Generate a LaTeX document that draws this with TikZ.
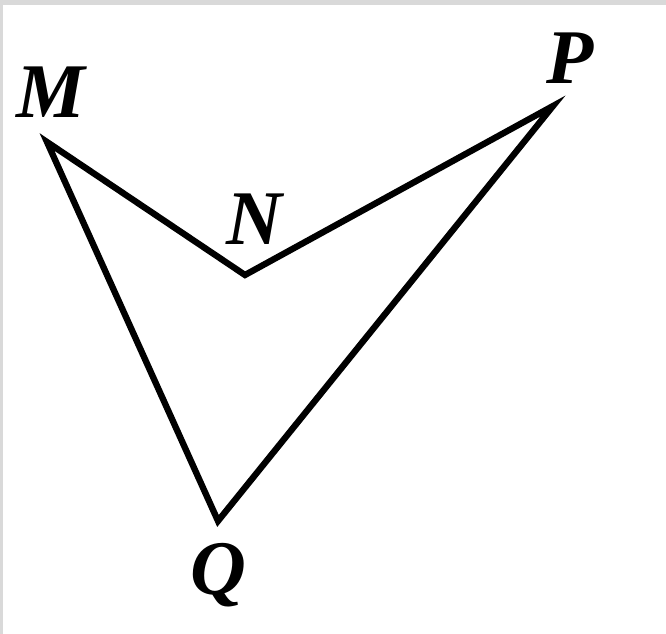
\documentclass[tikz,border=0pt]{standalone}
\usepackage{fontspec}
\setmainfont{Liberation Serif}
\begin{document}
\begin{tikzpicture}[x=0.02cm, y=-0.02cm,
    side/.style={line width=3.6pt, line join=miter, line cap=round},
    lbl/.style={font=\fontsize{44}{50}\selectfont\bfseries\itshape, inner sep=0pt}]
    \fill[gray!30!white] (0,0) rectangle (666,634);
    \fill[white] (3,5) rectangle (666,634);
    \useasboundingbox (0,0) rectangle (666,634);
    \coordinate (M) at (47,142);
    \coordinate (N) at (245,275);
    \coordinate (P) at (553,106);
    \coordinate (Q) at (218,521);
    \draw[side] (M) -- (N) -- (P) -- (Q) -- cycle;
    \node[lbl] (mlabel) at (51,92) {M};
    \node[lbl] (nlabel) at (254,219) {N};
    \node[lbl] (plabel) at (570,58) {P};
    \node[lbl] (qlabel) at (218,575) {Q};
\end{tikzpicture}
\end{document}
